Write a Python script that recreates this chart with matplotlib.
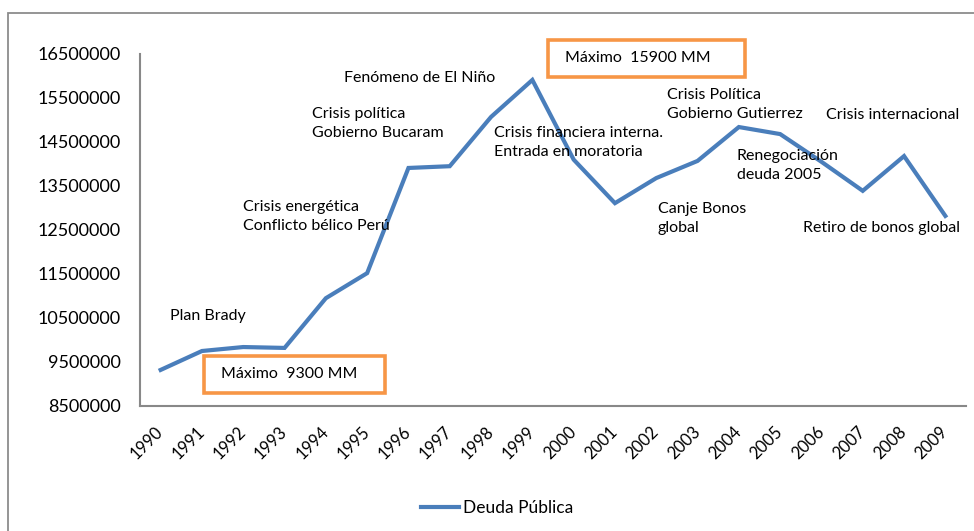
import numpy as np
import matplotlib
matplotlib.use("Agg")
import matplotlib.pyplot as plt
from matplotlib.patches import Rectangle

plt.rcParams['font.family'] = ['Lato', 'DejaVu Sans']

years = [str(y) for y in range(1990, 2010)]
deuda = [9320000, 9750000, 9840000, 9820000, 10950000, 11520000, 13910000,
         13950000, 15070000, 15910000, 14100000, 13110000, 13680000, 14070000,
         14840000, 14680000, 14050000, 13390000, 14180000, 12820000]
yticks = list(range(8500000, 16500001, 1000000))

# annotation texts, placed in pixel coords of the 974x531 figure (left x, center y of first line)
notes = [
    ("Plan Brady", 170, 316),
    ("Crisis energética\nConflicto bélico Perú", 243, 208),
    ("Crisis política\nGobierno Bucaram", 312, 115),
    ("Fenómeno de El Niño", 344, 78),
    ("Crisis financiera interna.\nEntrada en moratoria", 494, 134),
    ("Crisis Política\nGobierno Gutierrez", 667, 96),
    ("Crisis internacional", 826, 115),
    ("Renegociación\ndeuda 2005", 737, 157),
    ("Canje Bonos\nglobal", 658, 210),
    ("Retiro de bonos global", 803, 228),
]
boxes = [
    ("Máximo  9300 MM", 204, 356, 385, 393),
    ("Máximo  15900 MM", 548, 40, 745, 77),
]

W, H = 974, 531
fig = plt.figure(figsize=(W / 100, H / 100), dpi=100)
ax = fig.add_axes([140 / W, 1 - 406 / H, (966 - 140) / W, (406 - 54) / H])


def fx(px):
    return px / W


def fy(py):
    return 1 - py / H


# outer chart frame
fig.patches.append(Rectangle((fx(8), fy(545)), fx(980 - 8), (545 - 13) / H,
                             transform=fig.transFigure, fill=False,
                             edgecolor='#8c8c8c', linewidth=1.3))

x = np.arange(len(years))
line, = ax.plot(x, deuda, color='#4A7EBB', linewidth=3, solid_joinstyle='miter',
                label='Deuda Pública')

ax.set_xlim(-0.5, len(years) - 0.5)
ax.set_ylim(8500000, 16500000)
ax.set_yticks(yticks)
ax.set_yticklabels([str(v) for v in yticks], fontsize=13)
ax.set_xticks(x)
ax.set_xticklabels(years, fontsize=12, rotation=45, ha='right', va='center',
                   rotation_mode='anchor')
ax.tick_params(axis='y', length=0, pad=14)
ax.tick_params(axis='x', length=0, pad=17)
for s in ['top', 'right']:
    ax.spines[s].set_visible(False)
for s in ['left', 'bottom']:
    ax.spines[s].set_color('#888888')
    ax.spines[s].set_linewidth(1.5)

for txt, px, py in notes:
    if '\n' in txt:
        fig.text(fx(px), fy(py - 8), txt, fontsize=11.5, ha='left', va='top',
                 linespacing=1.45)
    else:
        fig.text(fx(px), fy(py), txt, fontsize=11.5, ha='left', va='center')

for txt, x0, y0, x1, y1 in boxes:
    fig.patches.append(Rectangle((fx(x0), fy(y1)), fx(x1 - x0), (y1 - y0) / H,
                                 transform=fig.transFigure, fill=True,
                                 facecolor='white', edgecolor='#F79646',
                                 linewidth=2.6, zorder=3))
    fig.text(fx(x0 + 17), fy((y0 + y1) / 2), txt, fontsize=11.5, ha='left',
             va='center', zorder=4)

leg = fig.legend(handles=[line], loc='center', bbox_to_anchor=(fx(497), fy(508)),
                 frameon=False, fontsize=12.5, handlelength=2.2, handletextpad=0.2)

fig.savefig('out.png', dpi=100)
